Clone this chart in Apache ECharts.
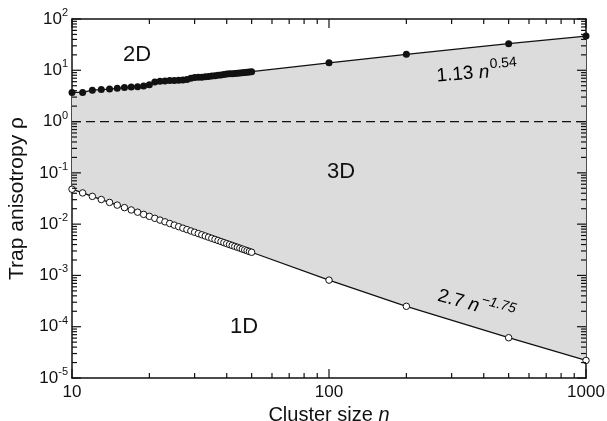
<!DOCTYPE html>
<html>
<head>
<meta charset="utf-8">
<script src="https://cdn.jsdelivr.net/npm/echarts@6/dist/echarts.min.js"></script>
<style>
  html, body { margin: 0; padding: 0; background: #fff; }
  #chart { width: 607px; height: 421px; }
</style>
</head>
<body>
<div id="chart"></div>
<script>
// Cluster sizes n
const clusterSizes = [10, 11, 12, 13, 14, 15, 16, 17, 18, 19, 20, 21, 22, 23, 24, 25, 26, 27, 28, 29, 30,
  31, 32, 33, 34, 35, 36, 37, 38, 39, 40, 41, 42, 43, 44, 45, 46, 47, 48, 49, 50, 100, 200, 500, 1000];

// Anisotropy bound between 3D and 2D traps (filled circles)
const rho2D = [3.7, 3.7, 4.1, 4.2, 4.3, 4.45, 4.6, 4.7, 4.8, 4.95, 5.2, 5.9, 6.1, 6.2, 6.3, 6.3, 6.4, 6.5, 6.6, 7.0, 7.2,
  7.3, 7.3, 7.5, 7.6, 7.7, 7.8, 8.0, 8.1, 8.3, 8.5, 8.6, 8.6, 8.7, 8.8, 8.9, 9.0, 9.1, 9.2, 9.3, 9.4, 14, 20.5, 33, 46.5];

// Anisotropy bound between 1D and 3D traps (open circles)
const rho1D = [0.048, 0.0406, 0.0348, 0.0302, 0.0265, 0.0235, 0.0210, 0.0189, 0.0171, 0.0155, 0.0142,
  0.0130, 0.0120, 0.0111, 0.0103, 0.00957, 0.00893, 0.00835, 0.00784, 0.00737, 0.00694,
  0.00655, 0.00620, 0.00587, 0.00557, 0.00529, 0.00504, 0.00480, 0.00458, 0.00437, 0.00418,
  0.00400, 0.00384, 0.00368, 0.00354, 0.00340, 0.00327, 0.00315, 0.00304, 0.00293, 0.00283,
  0.00081, 0.00025, 0.000061, 0.000022];

// Axis decades
const xMajorTicks = [10, 100, 1000];
const yMajorTicks = [1e-5, 1e-4, 1e-3, 1e-2, 1e-1, 1, 10, 100];
const isotropicLevel = 1;

const FONT = '"Liberation Sans", Arial, Helvetica, sans-serif';
const INK = '#111';
const NOTE = '#222';

const pairs2D = clusterSizes.map((n, i) => [n, rho2D[i]]);
const pairs1D = clusterSizes.map((n, i) => [n, rho1D[i]]);

const xMin = xMajorTicks[0], xMax = xMajorTicks[xMajorTicks.length - 1];
const yMin = yMajorTicks[0], yMax = yMajorTicks[yMajorTicks.length - 1];

// 2..9 within each decade
function minorTicks(majors) {
  const out = [];
  for (let k = 0; k < majors.length - 1; k++) {
    for (let m = 2; m <= 9; m++) out.push(majors[k] * m);
  }
  return out;
}
const xMinorTicks = minorTicks(xMajorTicks);
const yMinorTicks = minorTicks(yMajorTicks);

// Tick items: [x, y, dx, dy] — anchor on the frame plus inward pixel extent
const MAJ = 9, MINOR = 5;
const tickItems = [];
xMajorTicks.forEach(v => { tickItems.push([v, yMin, 0, -MAJ], [v, yMax, 0, MAJ]); });
xMinorTicks.forEach(v => { tickItems.push([v, yMin, 0, -MINOR], [v, yMax, 0, MINOR]); });
yMajorTicks.forEach(v => { tickItems.push([xMin, v, MAJ, 0], [xMax, v, -MAJ, 0]); });
yMinorTicks.forEach(v => { tickItems.push([xMin, v, MINOR, 0], [xMax, v, -MINOR, 0]); });

// One thin filled quad per tick
function renderTick(params, api) {
  const p = api.coord([api.value(0), api.value(1)]);
  const dx = api.value(2), dy = api.value(3);
  const hw = 0.6;
  let pts;
  if (dx === 0) {
    pts = [[p[0] - hw, p[1]], [p[0] + hw, p[1]], [p[0] + hw, p[1] + dy], [p[0] - hw, p[1] + dy]];
  } else {
    pts = [[p[0], p[1] - hw], [p[0] + dx, p[1] - hw], [p[0] + dx, p[1] + hw], [p[0], p[1] + hw]];
  }
  return { type: 'polygon', shape: { points: pts }, style: { fill: INK } };
}

// Shaded 3D region between the two bounds
function renderBand(params, api) {
  const pts = [];
  pairs2D.forEach(p => pts.push(api.coord(p)));
  for (let i = pairs1D.length - 1; i >= 0; i--) pts.push(api.coord(pairs1D[i]));
  return { type: 'polygon', shape: { points: pts }, style: { fill: '#dcdcdc' } };
}

const supRich = {
  b: { fontSize: 17, fontFamily: FONT, color: INK, verticalAlign: 'bottom', lineHeight: 17 },
  s: { fontSize: 11, fontFamily: FONT, color: INK, verticalAlign: 'bottom', lineHeight: 11, padding: [0, 0, 9, 0] }
};

const frameAxis = {
  axisLine: { show: true, lineStyle: { color: INK, width: 1.5 } },
  axisTick: { show: false },
  splitLine: { show: false }
};

const noteRich = (italicSup) => ({
  a: { fontSize: 19, fontFamily: FONT, color: NOTE, verticalAlign: 'bottom', lineHeight: 19 },
  i: { fontSize: 19, fontFamily: FONT, fontStyle: 'italic', color: NOTE, verticalAlign: 'bottom', lineHeight: 19 },
  s: { fontSize: 14, fontFamily: FONT, fontStyle: italicSup ? 'italic' : 'normal', color: NOTE,
       verticalAlign: 'bottom', lineHeight: 14, padding: [0, 0, 10, 1] }
});

const chart = echarts.init(document.getElementById('chart'), null, { renderer: 'canvas' });

chart.setOption({
  animation: false,
  backgroundColor: '#fff',
  grid: { left: 72, right: 21, top: 19, bottom: 43, containLabel: false, outerBoundsMode: 'none' },
  xAxis: [Object.assign({
    type: 'log', min: xMin, max: xMax, logBase: 10, splitNumber: 2,
    axisLabel: {
      color: INK, fontSize: 17, fontFamily: FONT, margin: 6,
      formatter: v => String(Math.round(v))
    },
    name: 'Cluster size {i|n}',
    nameLocation: 'middle',
    nameGap: 21,
    nameTextStyle: {
      fontSize: 20, fontFamily: FONT, color: INK, verticalAlign: 'top',
      rich: { i: { fontSize: 20, fontFamily: FONT, fontStyle: 'italic', color: INK } }
    }
  }, frameAxis), Object.assign({
    type: 'log', min: xMin, max: xMax, logBase: 10, position: 'top',
    axisLabel: { show: false }
  }, frameAxis)],
  yAxis: [Object.assign({
    type: 'log', min: yMin, max: yMax, logBase: 10, splitNumber: 7,
    axisLabel: {
      margin: 4,
      formatter: v => '{b|10}{s|' + Math.round(Math.log10(v)) + '}',
      rich: supRich
    },
    name: 'Trap anisotropy ρ',
    nameLocation: 'middle',
    nameGap: 44,
    nameTextStyle: { fontSize: 21, fontFamily: FONT, color: INK }
  }, frameAxis), Object.assign({
    type: 'log', min: yMin, max: yMax, logBase: 10, position: 'right',
    axisLabel: { show: false }
  }, frameAxis)],
  series: [
    {
      type: 'custom', name: 'band', renderItem: renderBand, data: [[xMin, isotropicLevel]],
      z: 1, silent: true
    },
    {
      type: 'line', name: 'isotropic', data: [[xMin, isotropicLevel], [xMax, isotropicLevel]],
      symbol: 'none', z: 2, silent: true,
      lineStyle: { color: INK, width: 1.3, type: [9, 5] }
    },
    {
      type: 'line', name: '2D bound', data: pairs2D, z: 3,
      showAllSymbol: true, symbol: 'circle', symbolSize: 7,
      lineStyle: { color: INK, width: 1.3 },
      itemStyle: { color: INK, borderColor: INK, borderWidth: 0 }
    },
    {
      type: 'line', name: '1D bound', data: pairs1D, z: 3,
      showAllSymbol: true, symbol: 'circle', symbolSize: 6.5,
      lineStyle: { color: INK, width: 1.3 },
      itemStyle: { color: '#fff', borderColor: INK, borderWidth: 1 }
    },
    {
      type: 'custom', name: 'ticks', renderItem: renderTick, data: tickItems,
      dimensions: ['x', 'y', 'dx', 'dy'], encode: { x: 0, y: 1 },
      clip: false, z: 6, silent: true
    }
  ],
  graphic: [
    { type: 'text', z: 60, x: 137, y: 55, style: { text: '2D', font: '22px ' + FONT, fill: INK, align: 'center', verticalAlign: 'middle' } },
    { type: 'text', z: 60, x: 341, y: 172, style: { text: '3D', font: '22px ' + FONT, fill: INK, align: 'center', verticalAlign: 'middle' } },
    { type: 'text', z: 60, x: 244, y: 327, style: { text: '1D', font: '22px ' + FONT, fill: INK, align: 'center', verticalAlign: 'middle' } },
    {
      type: 'text', z: 60, x: 477, y: 73, rotation: 0.08,
      style: { text: '{a|1.13 }{i|n}{s|0.54}', align: 'center', verticalAlign: 'middle', rich: noteRich(false) }
    },
    {
      type: 'text', z: 60, x: 476, y: 306, rotation: -0.27,
      style: { text: '{a|2.7 }{i|n}{s|\u22121.75}', align: 'center', verticalAlign: 'middle', rich: noteRich(true) }
    }
  ]
});
</script>
</body>
</html>
